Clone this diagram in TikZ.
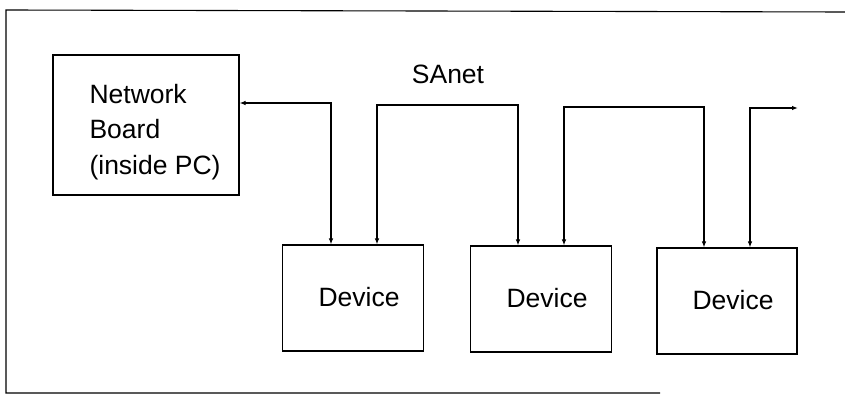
\documentclass[tikz,border=0pt]{standalone}
\usepackage{fontspec}
\setmainfont{Liberation Sans}
\usetikzlibrary{arrows.meta}
\begin{document}
\begin{tikzpicture}[x=1pt,y=-1pt,
  line width=1.1pt,
  boxstyle/.style={draw, line width=1.1pt, inner sep=0pt, minimum width=#1},
  lbl/.style={font=\fontsize{26.5}{35.5}\selectfont, inner sep=0pt},
  arr/.style={-{Latex[length=6pt,width=4.5pt]}},
  darr/.style={{Latex[length=6pt,width=4.5pt]}-{Latex[length=6pt,width=4.5pt]}}]
\useasboundingbox (0,0) rectangle (845,398);
% frame (open at right)
\coordinate (ftr) at (845,12);
\coordinate (ftl) at (6,10);
\coordinate (fbl) at (6,393);
\coordinate (fbr) at (660,393);
\draw (ftr) -- (ftl) -- (fbl) -- (fbr);
% network board
\node[boxstyle=186pt, minimum height=140pt] (nb) at (146,125) {};
\node[lbl, anchor=west, align=left] (nbt) at (89,132) {Network\\Board\\(inside PC)};
% devices
\node[boxstyle=141pt, minimum height=106pt] (d1) at (353,298) {};
\node[boxstyle=141pt, minimum height=106pt] (d2) at (541,299) {};
\node[boxstyle=140pt, minimum height=106pt] (d3) at (727,301) {};
\node[lbl] (d1t) at (359,297) {Device};
\node[lbl] (d2t) at (547,298) {Device};
\node[lbl] (d3t) at (733,300) {Device};
% SAnet label
\node[lbl] (sa) at (448,74) {SAnet};
% bus coordinates
\coordinate (a1) at (331,103);
\coordinate (b1) at (377,105);
\coordinate (b2) at (518,105);
\coordinate (c1) at (564,107);
\coordinate (c2) at (704,107);
\coordinate (e1) at (750,108);
\coordinate (e2) at (798,108);
% connectors
\draw[darr] (nb.east |- a1) -- (a1) -- (a1 |- d1.north);
\draw[darr] (b1 |- d1.north) -- (b1) -- (b2) -- (b2 |- d2.north);
\draw[darr] (c1 |- d2.north) -- (c1) -- (c2) -- (c2 |- d3.north);
\draw[darr] (e1 |- d3.north) -- (e1) -- (e2);
\end{tikzpicture}
\end{document}
